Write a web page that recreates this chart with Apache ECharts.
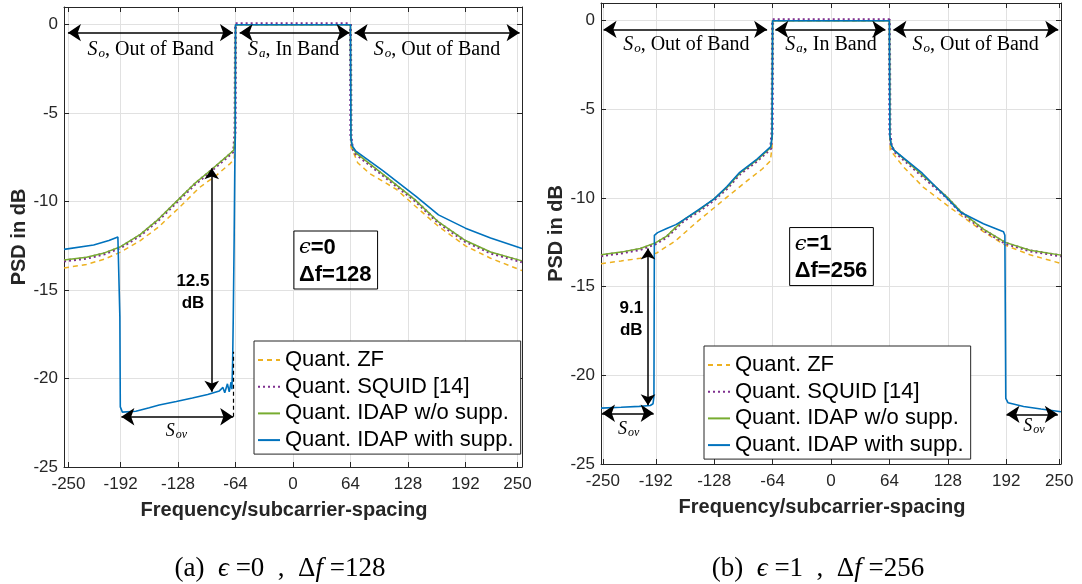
<!DOCTYPE html>
<html>
<head>
<meta charset="utf-8">
<script src="https://cdn.jsdelivr.net/npm/echarts@6/dist/echarts.min.js"></script>
<style>
  html, body { margin: 0; padding: 0; background: #fff; }
  #chart { width: 1082px; height: 584px; }
</style>
</head>
<body>
<div id="chart"></div>
<script>
// Tick positions shared by both panels
const xTicks = [-250, -192, -128, -64, 0, 64, 128, 192, 250];
const yTicks = [-25, -20, -15, -10, -5, 0];
const names = ['Quant. ZF', 'Quant. SQUID [14]', 'Quant. IDAP w/o supp.', 'Quant. IDAP with supp.'];

// Panel (a): epsilon = 0, delta f = 128   ([frequency, PSD dB])
const zfA = [[-255,-13.75],[-230,-13.55],[-210,-13.25],[-192,-12.85],[-170,-12.2],[-150,-11.45],[-128,-10.4],[-104,-9.2],[-85,-8.5],[-70,-7.85],[-65.5,-7.6],[-64.5,-6.8],[-64,0],
  [64,0],[64.5,-6.9],[66.3,-7.1],[72,-7.8],[85,-8.4],[115,-9.3],[136,-10.25],[162,-11.4],[192,-12.5],[220,-13.2],[255,-13.9]];
const squidA = [[-255,-13.35],[-230,-13.2],[-210,-12.95],[-192,-12.6],[-170,-11.9],[-150,-11.05],[-128,-9.95],[-110,-9.05],[-91,-8.25],[-75,-7.55],[-66,-7.15],[-64.5,-6.0],[-64,0.05],
  [64,0.05],[64.5,-6.3],[66,-6.95],[70,-7.3],[100,-8.5],[136,-9.95],[162,-11.2],[192,-12.25],[220,-12.9],[255,-13.4]];
const idapA = [[-255,-13.3],[-230,-13.15],[-210,-12.9],[-192,-12.55],[-170,-11.85],[-150,-11.0],[-128,-9.9],[-110,-9.0],[-91,-8.2],[-75,-7.5],[-66,-7.1],[-64.5,-6.3],[-64,0],
  [64,0],[64.5,-6.5],[66,-6.9],[70,-7.25],[100,-8.45],[136,-9.9],[162,-11.15],[192,-12.2],[220,-12.85],[255,-13.35]];
const idapSuppA = [[-255,-12.7],[-222,-12.45],[-205,-12.2],[-195,-12.0],[-193.5,-11.9],[-192.8,-16.5],[-192.3,-21.6],[-190,-21.9],[-175,-21.85],[-160,-21.65],[-149,-21.5],[-130,-21.3],[-112,-21.1],[-95,-20.9],[-82,-20.7],[-78,-20.5],[-76,-20.8],[-73,-20.3],[-71,-20.75],[-69,-20.2],[-68,-20.6],[-67.2,-19.0],[-66.5,-16.5],[-65.5,-12.0],[-64.8,-8.0],[-64.3,-6.5],[-64,0],
  [64,0],[64.5,-6.4],[66,-6.85],[70,-7.15],[100,-8.25],[137,-9.7],[162,-10.75],[192,-11.5],[220,-12.05],[255,-12.65]];

// Panel (b): epsilon = 1, delta f = 256
const zfB = [[-252,-13.7],[-230,-13.55],[-209,-13.4],[-191,-13.1],[-170,-12.4],[-147,-11.35],[-128,-10.55],[-114,-9.95],[-90,-8.95],[-75,-8.35],[-66.4,-7.9],[-64.6,-7.1],[-64,0],
  [64,0],[64.6,-6.9],[65,-7.3],[79.5,-8.25],[101,-9.38],[127,-10.4],[142,-10.97],[167,-11.9],[191,-12.66],[218,-13.2],[252,-13.69]];
const squidB = [[-252,-13.25],[-230,-13.1],[-209,-12.9],[-192.5,-12.58],[-180,-12.2],[-162,-11.3],[-145,-10.75],[-128,-10.1],[-114,-9.45],[-100,-8.65],[-81,-7.9],[-66,-7.2],[-64.5,-6.2],[-64,0.05],
  [64,0.05],[64.5,-6.3],[66,-7.05],[69,-7.35],[90,-8.3],[127,-9.98],[142,-10.8],[167,-11.8],[191,-12.55],[218,-12.98],[252,-13.26]];
const idapB = [[-252,-13.2],[-230,-13.05],[-209,-12.85],[-192.5,-12.53],[-180,-12.15],[-162,-11.25],[-145,-10.7],[-128,-10.05],[-114,-9.4],[-100,-8.6],[-81,-7.85],[-66,-7.15],[-64.5,-6.5],[-64,0],
  [64,0],[64.5,-6.5],[66,-7.0],[69,-7.3],[90,-8.25],[127,-9.93],[142,-10.75],[167,-11.75],[191,-12.5],[218,-12.94],[252,-13.22]];
const idapSuppB = [[-252,-21.85],[-230,-21.8],[-210,-21.75],[-198,-21.7],[-195,-21.6],[-194,-21.2],[-193.5,-12.1],[-190,-11.95],[-180,-11.72],[-170,-11.5],[-162,-11.25],[-145,-10.65],[-128,-10.05],[-114,-9.35],[-100,-8.55],[-81,-7.8],[-66,-7.1],[-64.5,-6.5],[-64,0],
  [64,0],[64.5,-6.5],[66,-7.0],[69,-7.3],[100,-8.6],[127,-10.0],[142,-10.8],[167,-11.45],[189,-11.9],[190.5,-12.1],[191.5,-21.3],[194,-21.55],[211,-21.76],[230,-21.9],[252,-22.05]];

const axisColor = '#262626';
const gridColor = '#e1e1e1';
const sans = 'Liberation Sans, Arial, Helvetica, sans-serif';
const serif = 'Liberation Serif, Times New Roman, DejaVu Serif, serif';

const styles = [
  { color: '#EDB120', width: 1.5, type: [5, 4] },
  { color: '#7E2F8E', width: 3, type: [2, 3] },
  { color: '#77AC30', width: 1.5, type: 'solid' },
  { color: '#0072BD', width: 1.6, type: 'solid' }
];

function xAxes(g, lim) {
  return [
    {
      type: 'value', gridIndex: g, min: -lim, max: lim, position: 'bottom',
      axisLine: { show: true, onZero: false, lineStyle: { color: axisColor, width: 1 } },
      axisTick: { show: true, inside: true, length: 5, customValues: xTicks, lineStyle: { color: axisColor } },
      axisLabel: { customValues: xTicks, color: axisColor, fontSize: 17, fontFamily: sans, margin: 9 },
      splitLine: { show: true, lineStyle: { color: gridColor, width: 1 } },
      name: 'Frequency/subcarrier-spacing', nameLocation: 'middle', nameGap: 33,
      nameTextStyle: { fontFamily: sans, fontWeight: 'bold', fontSize: 20, color: axisColor, padding: [0, 18, 0, 0] }
    },
    {
      type: 'value', gridIndex: g, min: -lim, max: lim, position: 'top',
      axisLine: { show: true, onZero: false, lineStyle: { color: axisColor, width: 1 } },
      axisTick: { show: true, inside: true, length: 5, customValues: xTicks, lineStyle: { color: axisColor } },
      axisLabel: { show: false }, splitLine: { show: false }
    }
  ];
}

function yAxes(g) {
  return [
    {
      type: 'value', gridIndex: g, min: -25, max: 1, position: 'left',
      axisLine: { show: true, onZero: false, lineStyle: { color: axisColor, width: 1 } },
      axisTick: { show: true, inside: true, length: 5, customValues: yTicks, lineStyle: { color: axisColor } },
      axisLabel: { customValues: yTicks, color: axisColor, fontSize: 17, fontFamily: sans, margin: 6 },
      splitLine: { show: true, lineStyle: { color: gridColor, width: 1 } },
      name: 'PSD in dB', nameLocation: 'middle', nameGap: 35, nameRotate: 90,
      nameTextStyle: { fontFamily: sans, fontWeight: 'bold', fontSize: 20, color: axisColor }
    },
    {
      type: 'value', gridIndex: g, min: -25, max: 1, position: 'right',
      axisLine: { show: true, onZero: false, lineStyle: { color: axisColor, width: 1 } },
      axisTick: { show: true, inside: true, length: 5, customValues: yTicks, lineStyle: { color: axisColor } },
      axisLabel: { show: false }, splitLine: { show: false }
    }
  ];
}

function curves(g, sets) {
  return sets.map((d, i) => ({
    type: 'line', name: names[i], data: d,
    xAxisIndex: g * 2, yAxisIndex: g * 2,
    showSymbol: false, symbol: 'none', silent: true,
    lineStyle: styles[i], itemStyle: { color: styles[i].color },
    z: 2 + i
  }));
}

const sRich = {
  s: { fontFamily: serif, fontStyle: 'italic', fontSize: 20, color: '#000' },
  sub: { fontFamily: serif, fontStyle: 'italic', fontSize: 13, color: '#000', padding: [8, 0, 0, 1] },
  t: { fontFamily: serif, fontSize: 20, color: '#000' }
};
const ovRich = {
  s: { fontFamily: serif, fontStyle: 'italic', fontSize: 18, color: '#000' },
  sub: { fontFamily: serif, fontStyle: 'italic', fontSize: 12, color: '#000', padding: [7, 0, 0, 1] }
};
const boxRich = {
  e: { fontFamily: 'DejaVu Serif, serif', fontStyle: 'italic', fontSize: 21, color: '#000', lineHeight: 27 },
  b: { fontFamily: sans, fontWeight: 'bold', fontSize: 22, color: '#000', lineHeight: 27 }
};

function textItem(x, y, formatter, extra) {
  return { coord: [x, y], label: Object.assign({ formatter: formatter }, extra || {}) };
}
function arrow(x1, y1, x2, y2, size) {
  return [{ coord: [x1, y1], symbolSize: size || 13 }, { coord: [x2, y2], symbolSize: size || 13 }];
}

function annotations(g, lines, texts) {
  return {
    type: 'line', name: 'notes', data: [], xAxisIndex: g * 2, yAxisIndex: g * 2, silent: true, z: 20,
    markLine: {
      silent: true, symbol: ['arrow', 'arrow'], symbolSize: 13, animation: false, z: 20,
      label: { show: false },
      lineStyle: { color: '#000', width: 1.5, type: 'solid' },
      emphasis: { disabled: true },
      data: lines
    },
    markPoint: {
      silent: true, symbol: 'circle', symbolSize: 0, animation: false, z: 21,
      itemStyle: { color: 'rgba(0,0,0,0)' },
      label: { show: true, position: [0, 0], align: 'center', verticalAlign: 'middle', color: '#000' },
      data: texts
    }
  };
}

const dbLabel = { fontFamily: sans, fontWeight: 'bold', fontSize: 17, lineHeight: 22, color: '#000' };
const boxLabel = { rich: boxRich, align: 'left', borderColor: '#000', borderWidth: 1, padding: [3, 6, 1, 5] };

const notesA = annotations(0, [
  arrow(-250.6, -0.45, -66.9, -0.45),
  arrow(-59.4, -0.45, 63, -0.45),
  arrow(68.6, -0.45, 252.3, -0.45),
  arrow(-90.5, -8.11, -90.5, -20.75, 11),
  arrow(-191.1, -22.16, -66.6, -22.16),
  [{ coord: [-66.3, -22.16], symbol: 'none', lineStyle: { type: [4, 3], width: 1.2 } }, { coord: [-66.3, -18.49], symbol: 'none' }]
], [
  textItem(-158.5, -1.39, '{s|S}{sub|o}{t|, Out of Band}', { rich: sRich }),
  textItem(0.7, -1.39, '{s|S}{sub|a}{t|, In Band}', { rich: sRich }),
  textItem(160.4, -1.39, '{s|S}{sub|o}{t|, Out of Band}', { rich: sRich }),
  textItem(-111.4, -15.14, '12.5\ndB', dbLabel),
  textItem(-129.9, -23.0, '{s|S}{sub|ov}', { rich: ovRich }),
  textItem(1.0, -13.3, '{e|ϵ}{b|=0}\n{b|Δf=128}', boxLabel)
]);

const notesB = annotations(1, [
  arrow(-249.2, -0.49, -70, -0.49),
  arrow(-61, -0.49, 59.6, -0.49),
  arrow(68.4, -0.49, 249, -0.49),
  arrow(-200.5, -12.84, -200.5, -21.68, 11),
  arrow(-250.9, -22.14, -194.3, -22.14),
  arrow(192.3, -22.2, 248.5, -22.2)
], [
  textItem(-158.5, -1.37, '{s|S}{sub|o}{t|, Out of Band}', { rich: sRich }),
  textItem(0, -1.37, '{s|S}{sub|a}{t|, In Band}', { rich: sRich }),
  textItem(158.5, -1.37, '{s|S}{sub|o}{t|, Out of Band}', { rich: sRich }),
  textItem(-218.8, -16.82, '9.1\ndB', dbLabel),
  textItem(-221.7, -23.05, '{s|S}{sub|ov}', { rich: ovRich }),
  textItem(222.2, -22.9, '{s|S}{sub|ov}', { rich: ovRich }),
  textItem(-45.3, -13.3, '{e|ϵ}{b|=1}\n{b|Δf=256}', boxLabel)
]);

function legendAt(left, top) {
  return {
    data: names, left: left, top: top, orient: 'vertical',
    itemWidth: 22, itemHeight: 14, itemGap: 4.7,
    padding: [8, 7, 3, 3],
    borderColor: axisColor, borderWidth: 1, borderRadius: 0, backgroundColor: '#fff',
    selectedMode: false,
    // line samples only, no point marker
    itemStyle: { opacity: 0 },
    textStyle: { fontFamily: sans, fontSize: 22, color: '#000', lineHeight: 22 }
  };
}

const capRich = { i: { fontFamily: serif, fontStyle: 'italic', fontSize: 27, color: '#000' } };
const capStyle = { fontFamily: serif, fontSize: 27, fontWeight: 'normal', color: '#000', rich: capRich };

const chart = echarts.init(document.getElementById('chart'));
chart.setOption({
  animation: false,
  backgroundColor: '#fff',
  grid: [
    { left: 64, top: 7, width: 458, height: 460 },
    { left: 601, top: 3, width: 460, height: 461 }
  ],
  xAxis: [].concat(xAxes(0, 255), xAxes(1, 252)),
  yAxis: [].concat(yAxes(0), yAxes(1)),
  legend: [legendAt(254, 341), legendAt(704, 346)],
  title: [
    { text: '(a)  {i|ϵ} =0  ,  Δ{i|f} =128', left: 275, top: 550, textAlign: 'center', textStyle: capStyle },
    { text: '(b)  {i|ϵ} =1  ,  Δ{i|f} =256', left: 813, top: 550, textAlign: 'center', textStyle: capStyle }
  ],
  series: [].concat(
    curves(0, [zfA, squidA, idapA, idapSuppA]),
    curves(1, [zfB, squidB, idapB, idapSuppB]),
    [notesA, notesB]
  )
});
</script>
</body>
</html>
